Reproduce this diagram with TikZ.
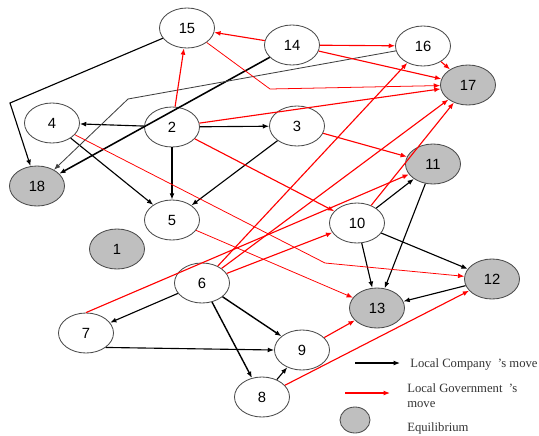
\documentclass[tikz,border=0pt]{standalone}
\usepackage{fontspec}
\setmainfont{Liberation Serif}
\newfontfamily\numfont{Liberation Sans}
\usetikzlibrary{arrows.meta,shapes.geometric}
\begin{document}
\begin{tikzpicture}[x=0.025cm,y=-0.025cm,
        state/.style={ellipse,draw=black!70,line width=0.6pt,fill=white,minimum width=1.375cm,minimum height=1cm,inner sep=0pt,font=\numfont\fontsize{10.5}{12}\selectfont},
        equi/.style={state,fill=black!25},
        co/.style={-{Latex[length=4.5pt,width=3.5pt]},line width=0.8pt,black},
        go/.style={-{Latex[length=4.5pt,width=3.5pt]},line width=0.8pt,red},
        thin go/.style={go,line width=0.55pt},
        legend/.style={font=\fontsize{9}{11}\selectfont,text=black!80,anchor=west,inner sep=0pt}]
    \useasboundingbox (0,0) rectangle (539,435);

    \node[state] (n15) at (187,28) {15};
    \node[state] (n14) at (292,45) {14};
    \node[state] (n16) at (423,46) {16};
    \node[equi]  (n17) at (468,85) {17};
    \node[state] (n4)  at (52,123) {4};
    \node[state] (n2)  at (172,127) {2};
    \node[state] (n3)  at (297,126) {3};
    \node[equi]  (n18) at (37,186) {18};
    \node[equi]  (n11) at (433,164) {11};
    \node[state] (n5)  at (172,220) {5};
    \node[state] (n10) at (357,223) {10};
    \node[equi]  (n1)  at (117,249) {1};
    \node[equi]  (n12) at (492,279) {12};
    \node[state] (n6)  at (202,283) {6};
    \node[equi]  (n13) at (377,308) {13};
    \node[state] (n7)  at (86,333) {7};
    \node[state] (n9)  at (302,350) {9};
    \node[state] (n8)  at (262,397) {8};

    \coordinate (b15) at (10,103);
    \coordinate (b16) at (128,99);
    \coordinate (b17) at (270,89);
    \coordinate (b12) at (325,263);

    % company
    \draw[co] (n2) -- (n4);
    \draw[co] (n2) -- (n3);
    \draw[co] (n2) -- (n5);
    \draw[co] (n3) -- (n5);
    \draw[co] (n4) -- (n5);
    \draw[co] (n15) -- (b15) -- (n18);
    \draw[co,line width=1.1pt] (n14) -- (n18);
    \draw[co,black!75,line width=0.6pt] (n16) -- (b16) -- (n18);
    \draw[co] (n10) -- (n11);
    \draw[co] (n10) -- (n13);
    \draw[co] (n10) -- (n12);
    \draw[co] (n11) -- (n13);
    \draw[co] (n12) -- (n13);
    \draw[co] (n6) -- (n7);
    \draw[co,line width=1pt] (n6) -- (n9);
    \draw[co,line width=1pt] (n6) -- (n8);
    \draw[co] (n7.south east) -- (n9.west);
    \draw[co] (n8) -- (n9);

    % government
    \draw[go] (n14) -- (n15);
    \draw[go] (n14) -- (n16);
    \draw[go] (n14) -- (n17);
    \draw[go] (n16) -- (n17);
    \draw[go] (n2) -- (n15);
    \draw[go] (n2) -- (n17);
    \draw[thin go] (n15) -- (b17) -- (n17);
    \draw[thin go] (n4) -- (b12) -- (n12);
    \draw[thin go] (n5) -- (n13);
    \draw[go] (n2) -- (n10);
    \draw[go] (n3) -- (n11);
    \draw[go] (n6) -- (n16);
    \draw[go] (n6) -- (n17);
    \draw[go] (n6) -- (n10);
    \draw[go] (n7.north) -- (n11);
    \draw[go] (n10) -- (n17);
    \draw[go] (n9) -- (n13);
    \draw[go] (n8) -- (n12);

    % legend
    \coordinate (lc1) at (355,363);
    \coordinate (lc2) at (400,363);
    \coordinate (lg1) at (345,393);
    \coordinate (lg2) at (390,393);
    \draw[co] (lc1) -- (lc2);
    \draw[go] (lg1) -- (lg2);
    \node[equi,minimum width=0.75cm,minimum height=0.65cm] (leq) at (355,420) {};
    \node[legend] (tc) at (410,364) {Local Company\ \ 's move};
    \node[legend,align=left,anchor=north west] (tg) at (407,383) {Local Government\ \ 's\\move};
    \node[legend] (te) at (407,428) {Equilibrium};
\end{tikzpicture}
\end{document}
